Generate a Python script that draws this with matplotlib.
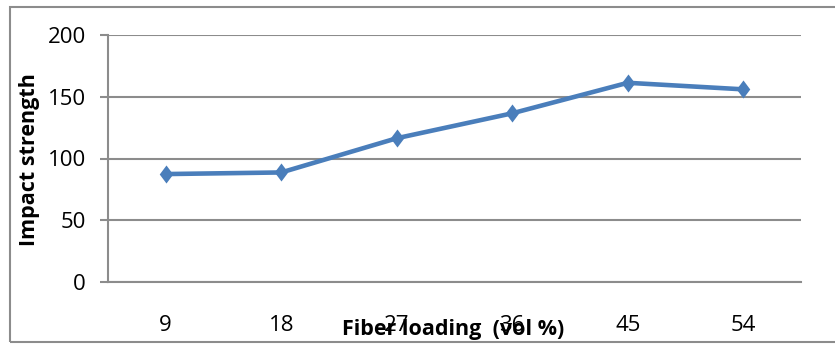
import numpy as np
import matplotlib
matplotlib.use("Agg")
import matplotlib.pyplot as plt
from matplotlib.patches import Rectangle

plt.rcParams["font.family"] = ["Open Sans", "DejaVu Sans"]

# dati
fiber_loading = ["9", "18", "27", "36", "45", "54"]
impact_strength = [87.4, 88.7, 116.4, 136.6, 161.3, 156.0]
y_ticks = [0, 50, 100, 150, 200]

fig = plt.figure(figsize=(8.35, 3.44), dpi=100)
ax = fig.add_axes([108 / 835, 62 / 344, 693 / 835, 247 / 344])

x = np.arange(len(fiber_loading))
diamond = [(0, 1), (0.75, 0), (0, -1), (-0.75, 0), (0, 1)]
ax.plot(x, impact_strength, color="#4A7EBB", linewidth=3.3,
        marker=diamond, markersize=13, markeredgewidth=0,
        solid_joinstyle="round", zorder=3, clip_on=False)

ax.set_xlim(-0.5, len(fiber_loading) - 0.5)
ax.set_ylim(0, 200)
ax.set_yticks(y_ticks)
ax.set_xticks(x)
ax.set_xticklabels(fiber_loading)
ax.grid(axis="y", color="#8C8C8C", linewidth=1.5)
ax.set_axisbelow(True)

for s in ["top", "right"]:
    ax.spines[s].set_visible(False)
ax.spines["left"].set_color("#8C8C8C")
ax.spines["left"].set_linewidth(1.5)
ax.spines["bottom"].set_color("#8C8C8C")
ax.spines["bottom"].set_linewidth(1.5)

ax.tick_params(axis="y", length=6, width=1.5, color="#8C8C8C",
               labelsize=16, pad=10)
ax.tick_params(axis="x", length=0, labelsize=16, pad=24)

fig.text(30 / 835, 1 - 160 / 344, "Impact strength", rotation=90,
         ha="center", va="center", fontsize=15.5, fontweight="bold")
fig.text(453 / 835, 1 - 329 / 344, "Fiber loading  (vol %)",
         ha="center", va="center", fontsize=15.5, fontweight="bold")

# cornice esterna del grafico
fig.patches.append(Rectangle((10 / 835, 2 / 344), 0.99, 335 / 344,
                             transform=fig.transFigure, fill=False,
                             edgecolor="#8C8C8C", linewidth=1.5))

fig.savefig("out.png", dpi=100)
